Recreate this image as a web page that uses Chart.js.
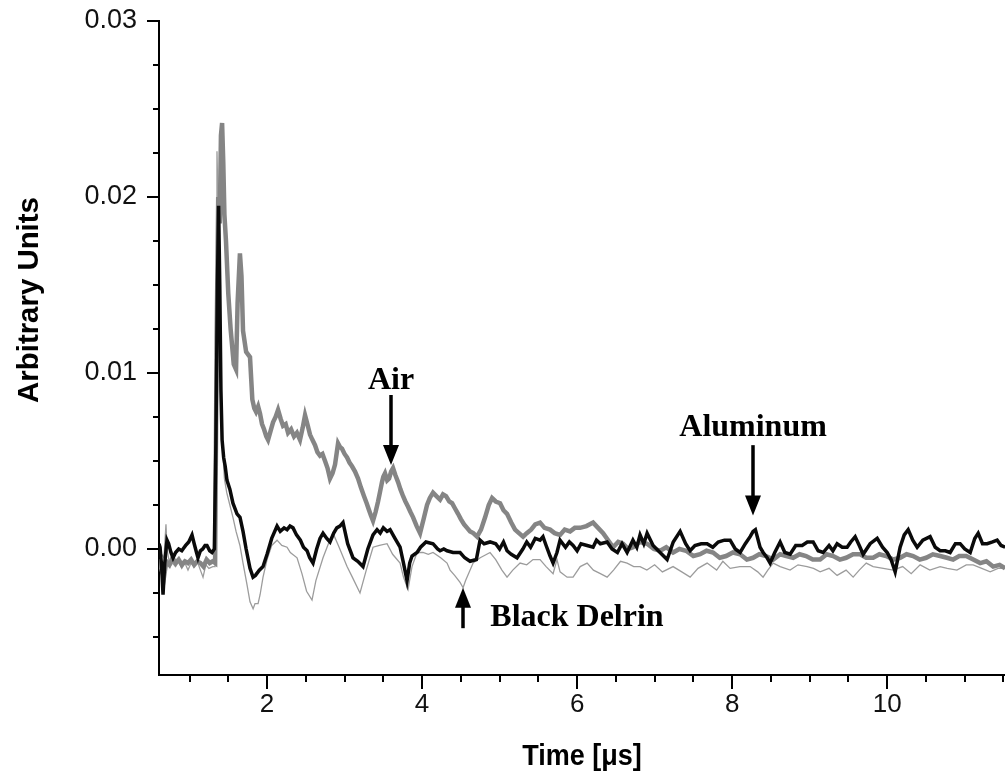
<!DOCTYPE html>
<html>
<head>
<meta charset="utf-8">
<script src="https://cdn.jsdelivr.net/npm/chart.js@4.4.0/dist/chart.umd.min.js"></script>
<style>
  body { margin: 0; background: #fff; }
  #wrap { width: 1005px; height: 780px; }
</style>
</head>
<body>
<div id="wrap"><canvas id="chart"></canvas></div>
<script>
// time axis in microseconds, signal in arbitrary units
const airT = [0.61,0.64,0.67,0.70,0.74,0.78,0.82,0.86,0.90,0.94,0.98,1.02,1.06,1.10,1.14,1.18,1.22,1.26,1.30,1.33,
  1.35,1.37,1.39,1.405,1.42,1.435,1.45,1.47,1.50,1.53,1.57,1.60,1.62,1.65,1.67,1.69,1.73,1.78,1.81,
  1.835,1.858,1.885,1.909,1.935,1.961,1.99,2.013,2.045,2.077,2.11,2.142,2.175,2.206,2.24,2.271,2.31,2.348,2.385,2.425,2.46,
  2.49,2.52,2.554,2.585,2.619,2.65,2.683,2.715,2.748,2.78,2.812,2.845,2.877,2.9,2.916,2.94,2.967,
  3.0,3.032,3.065,3.096,3.135,3.174,3.21,3.251,3.285,3.316,3.34,3.367,3.4,3.432,3.46,3.483,3.5,3.522,3.55,3.574,3.6,3.625,3.655,3.69,3.72,3.755,3.785,3.819,3.85,3.884,3.93,3.974,
  4.02,4.064,4.1,4.141,4.185,4.232,4.27,4.309,4.35,4.387,4.425,4.464,4.5,4.542,4.58,4.619,4.66,4.709,4.76,4.813,4.86,4.903,4.95,
  5.006,5.05,5.096,5.15,5.199,5.25,5.303,5.35,5.406,5.46,5.522,5.58,5.651,5.71,5.78,5.84,5.909,5.97,
  6.038,6.12,6.206,6.27,6.335,6.4,6.464,6.53,6.593,6.66,6.722,6.81,6.903,6.99,
  7.071,7.15,7.238,7.32,7.406,7.5,7.587,7.67,7.754,7.84,7.922,8.01,8.103,8.19,8.27,8.35,8.438,8.53,8.619,8.7,8.787,8.87,8.954,
  9.04,9.135,9.22,9.303,9.39,9.471,9.56,9.651,9.73,9.819,9.9,9.987,10.08,10.167,10.25,10.335,10.42,10.503,10.59,10.683,10.77,10.851,10.93,
  11.019,11.11,11.2,11.28,11.367,11.45,11.522];
const airV = [-0.0006,-0.0012,-0.0016,-0.0007,-0.0009,-0.0005,-0.0008,-0.0006,-0.0009,-0.0007,-0.0008,-0.0006,-0.0009,-0.0007,-0.0008,-0.0010,-0.0006,-0.0008,-0.0007,-0.0008,
  0.012,0.020,0.0185,0.0235,0.0242,0.022,0.019,0.0175,0.0145,0.0125,0.0105,0.0102,0.014,0.0168,0.0155,0.0124,0.0112,0.0109,0.0085,
  0.0080,0.0078,0.0081,0.0077,0.0071,0.0068,0.0064,0.0062,0.0067,0.0072,0.0075,0.0079,0.0074,0.0070,0.0071,0.0066,0.0068,0.0064,0.0066,0.0062,0.0069,
  0.0076,0.0071,0.0065,0.0062,0.0059,0.0055,0.0053,0.0054,0.0050,0.0046,0.0040,0.0043,0.0048,0.0055,0.0060,0.0058,0.0057,
  0.0054,0.0052,0.0049,0.0047,0.0044,0.0040,0.0035,0.0030,0.0026,0.0022,0.0019,0.0016,0.0021,0.0027,0.0033,0.0038,0.0041,0.0043,0.0039,0.0040,0.0044,0.0046,0.0042,0.0038,0.0034,0.0030,0.0027,0.0024,0.0021,0.0018,0.0013,0.0009,
  0.0017,0.0025,0.0029,0.0032,0.0030,0.0028,0.0031,0.0030,0.0027,0.0026,0.0023,0.0020,0.0017,0.0014,0.0012,0.0010,0.0009,0.0007,0.0011,0.0018,0.0025,0.0029,0.0027,
  0.0026,0.0022,0.0020,0.0015,0.0011,0.0009,0.0007,0.0009,0.0011,0.0014,0.0015,0.0012,0.0011,0.0009,0.0008,0.0011,0.0010,0.0012,
  0.0012,0.0013,0.0015,0.0012,0.0009,0.0005,0.0001,0.0004,0.0003,0.0000,0.0001,0.0004,0.0003,0.0000,
  -0.0001,0.0001,-0.0002,0.0000,-0.0001,-0.0004,-0.0003,-0.0001,-0.0002,-0.0005,-0.0004,-0.0002,-0.0003,-0.0006,-0.0005,-0.0003,-0.0004,-0.0006,-0.0003,-0.0004,-0.0005,-0.0003,-0.0004,
  -0.0006,-0.0006,-0.0003,-0.0004,-0.0006,-0.0005,-0.0003,-0.0003,-0.0005,-0.0005,-0.0003,-0.0004,-0.0006,-0.0005,-0.0003,-0.0004,-0.0006,-0.0005,-0.0003,-0.0004,-0.0005,-0.0006,-0.0004,
  -0.0004,-0.0006,-0.0008,-0.0007,-0.0010,-0.0009,-0.0011];

const aluT = [0.606,0.62,0.64,0.658,0.68,0.709,0.73,0.76,0.787,0.82,0.86,0.90,0.916,0.95,0.99,1.032,1.06,1.09,1.109,1.14,1.17,1.20,1.225,1.26,1.29,1.32,
  1.34,1.36,1.375,1.39,1.405,1.42,1.44,1.46,1.483,1.52,1.56,1.612,1.651,1.69,1.73,1.78,1.819,1.85,1.90,1.948,
  2.00,2.06,2.129,2.17,2.22,2.258,2.296,2.335,2.38,2.43,2.47,2.516,2.55,2.593,2.64,2.683,2.722,2.77,2.812,2.86,2.90,2.94,2.98,
  3.00,3.04,3.109,3.17,3.238,3.30,3.367,3.419,3.46,3.50,3.548,3.587,3.65,3.716,3.76,3.806,3.84,3.87,3.935,3.98,
  4.05,4.141,4.20,4.232,4.28,4.322,4.40,4.49,4.55,4.619,4.70,4.748,4.80,4.877,4.95,
  5.00,5.05,5.096,5.15,5.225,5.30,5.35,5.40,5.46,5.522,5.56,5.60,5.651,5.69,5.74,5.78,5.85,5.90,5.948,
  6.00,6.05,6.129,6.206,6.25,6.30,6.387,6.45,6.52,6.58,6.645,6.72,6.77,6.812,6.86,6.903,6.98,
  7.07,7.161,7.24,7.329,7.40,7.458,7.52,7.60,7.677,7.75,7.82,7.90,7.974,
  8.04,8.103,8.17,8.232,8.27,8.30,8.36,8.40,8.451,8.49,8.55,8.619,8.68,8.748,8.82,8.903,8.97,
  9.045,9.11,9.174,9.25,9.30,9.354,9.42,9.483,9.53,9.587,9.64,9.69,9.78,9.871,9.94,
  10.0,10.05,10.103,10.167,10.22,10.271,10.33,10.387,10.46,10.554,10.62,10.683,10.75,10.812,10.88,10.941,
  11.0,11.071,11.13,11.174,11.23,11.29,11.36,11.419,11.47,11.522];
const aluV = [0.0003,0.0001,-0.0010,-0.0026,-0.0008,0.0005,0.0003,-0.0002,-0.0005,-0.0002,0.0000,-0.0001,0.0000,0.0002,0.0004,0.0008,0.0003,-0.0002,-0.0005,-0.0001,0.0000,0.0002,0.0002,-0.0001,-0.0002,0.0000,
  0.0060,0.0150,0.0195,0.0150,0.0090,0.0062,0.0052,0.0047,0.0039,0.0034,0.0026,0.0020,0.0018,0.0010,0.0000,-0.0011,-0.0016,-0.0015,-0.0012,-0.0010,
  -0.0003,0.0006,0.0013,0.0010,0.0012,0.0011,0.0013,0.0012,0.0008,0.0005,0.0001,-0.0001,-0.0005,-0.0008,0.0000,0.0006,0.0009,0.0006,0.0004,0.0009,0.0012,0.0013,0.0015,
  0.0011,0.0003,-0.0005,-0.0007,-0.0010,0.0000,0.0008,0.0011,0.0009,0.0012,0.0010,0.0011,0.0006,0.0001,-0.0008,-0.0018,-0.0008,-0.0004,-0.0002,0.0001,
  0.0004,0.0003,0.0000,-0.0001,0.0000,-0.0001,-0.0002,-0.0002,-0.0005,-0.0007,-0.0006,0.0005,0.0003,0.0004,0.0003,
  0.0000,0.0004,-0.0001,-0.0003,-0.0005,0.0000,0.0004,0.0001,0.0006,0.0005,0.0007,0.0002,-0.0004,-0.0008,-0.0002,0.0005,0.0001,0.0004,0.0002,
  -0.0001,0.0003,0.0002,0.0001,0.0005,0.0003,0.0004,0.0000,-0.0002,0.0003,-0.0002,0.0005,0.0001,0.0008,0.0003,0.0009,0.0002,
  -0.0002,-0.0006,0.0004,0.0010,0.0003,-0.0001,0.0002,0.0003,0.0003,0.0001,0.0004,0.0005,0.0005,
  0.0000,-0.0002,0.0003,0.0007,0.0010,0.0011,0.0001,-0.0002,-0.0005,-0.0008,-0.0002,0.0004,-0.0002,-0.0003,0.0002,0.0002,0.0004,
  0.0004,-0.0001,-0.0002,0.0002,-0.0001,0.0003,0.0001,0.0001,0.0004,0.0007,0.0002,-0.0003,0.0003,0.0006,0.0001,
  -0.0002,-0.0006,-0.0013,0.0001,0.0008,0.0011,0.0005,0.0001,0.0005,0.0007,0.0001,-0.0001,-0.0001,-0.0002,0.0003,0.0003,
  0.0000,-0.0002,0.0006,0.0009,0.0003,0.0003,0.0004,0.0005,0.0002,0.0001];

const delT = [0.606,0.62,0.64,0.67,0.696,0.71,0.748,0.78,0.82,0.86,0.90,0.94,0.98,1.02,1.06,1.10,1.14,1.174,1.21,1.25,1.30,1.329,
  1.345,1.354,1.37,1.39,1.41,1.43,1.45,1.48,1.52,1.56,1.60,1.65,1.69,1.74,1.78,1.82,1.845,1.884,1.91,1.948,
  2.00,2.06,2.129,2.19,2.258,2.30,2.387,2.45,2.51,2.58,2.63,2.722,2.80,2.851,2.92,
  3.032,3.10,3.199,3.28,3.367,3.45,3.548,3.62,3.716,3.76,3.819,3.87,3.935,
  4.012,4.08,4.141,4.24,4.322,4.361,4.42,4.49,4.529,4.56,4.658,4.75,4.877,4.95,
  5.03,5.096,5.17,5.264,5.35,5.431,5.522,5.60,5.69,5.74,5.78,5.871,5.948,
  6.04,6.129,6.21,6.30,6.387,6.47,6.56,6.645,6.73,6.812,6.90,
  7.00,7.10,7.238,7.35,7.458,7.56,7.677,7.80,7.88,7.974,
  8.10,8.232,8.33,8.399,8.46,8.529,8.62,8.748,8.85,8.967,
  9.05,9.135,9.25,9.354,9.47,9.561,9.64,9.73,9.819,9.95,
  10.077,10.20,10.31,10.425,10.55,10.683,10.774,10.90,
  11.02,11.109,11.22,11.329,11.43,11.522];
const delV = [-0.0006,-0.0008,-0.0003,-0.0005,0.0014,0.0000,-0.0010,-0.0008,-0.0010,-0.0007,-0.0011,-0.0008,-0.0012,-0.0008,-0.0010,-0.0007,-0.0012,-0.0016,-0.0009,-0.0011,-0.0010,-0.0010,
  0.0100,0.0226,0.0190,0.0120,0.0070,0.0055,0.0040,0.0032,0.0025,0.0018,0.0010,0.0002,-0.0008,-0.0020,-0.0030,-0.0034,-0.0031,-0.0031,-0.0026,-0.0016,
  -0.0006,0.0002,0.0005,0.0002,0.0001,-0.0002,-0.0005,-0.0014,-0.0024,-0.0029,-0.0018,-0.0005,0.0004,0.0009,0.0002,
  -0.0010,-0.0016,-0.0025,-0.0012,0.0001,0.0002,0.0003,-0.0003,-0.0008,-0.0016,-0.0023,-0.0010,-0.0002,
  -0.0002,-0.0003,-0.0002,-0.0005,-0.0008,-0.0012,-0.0015,-0.0019,-0.0022,-0.0018,-0.0008,-0.0005,-0.0002,-0.0006,
  -0.0012,-0.0016,-0.0012,-0.0008,-0.0009,-0.0006,-0.0006,-0.0010,-0.0014,-0.0006,-0.0013,-0.0016,-0.0016,
  -0.0010,-0.0008,-0.0012,-0.0014,-0.0016,-0.0012,-0.0007,-0.0008,-0.0010,-0.0010,-0.0012,
  -0.0009,-0.0013,-0.0010,-0.0013,-0.0016,-0.0011,-0.0008,-0.0012,-0.0007,-0.0011,
  -0.0010,-0.0010,-0.0013,-0.0016,-0.0012,-0.0008,-0.0010,-0.0012,-0.0009,-0.0010,
  -0.0011,-0.0013,-0.0011,-0.0015,-0.0012,-0.0016,-0.0012,-0.0008,-0.0010,-0.0011,
  -0.0012,-0.0010,-0.0014,-0.0009,-0.0012,-0.0010,-0.0011,-0.0012,
  -0.0009,-0.0009,-0.0011,-0.0013,-0.0011,-0.0011];

const xLabels = [2, 4, 6, 8, 10];
const yLabels = [0, 0.01, 0.02, 0.03];

const toPoints = (t, v) => t.map((x, i) => ({ x, y: v[i] }));

// arrows and their captions, placed in data units
const notes = [
  { text: "Air", x: 3.6, y: 0.0091, align: "center", from: 0.00875, to: 0.00477 },
  { text: "Aluminum", x: 8.27, y: 0.0064, align: "center", from: 0.0059, to: 0.0019 },
  { text: "Black Delrin", x: 4.88, y: -0.0044, align: "left", ax: 4.53, from: -0.0045, to: -0.0022 },
];

const decor = {
  id: "decor",
  afterDraw(chart) {
    const { ctx, chartArea } = chart;
    const xs = chart.scales.x;
    const ys = chart.scales.y;
    ctx.save();
    ctx.strokeStyle = "#000";
    ctx.lineWidth = 2;

    // y tick marks, majors every 0.01, minors every 0.0025
    for (let k = -2; k <= 12; k++) {
      const py = Math.round(ys.getPixelForValue(k * 0.0025));
      const len = k % 4 === 0 ? 12 : 6;
      ctx.beginPath();
      ctx.moveTo(chartArea.left, py);
      ctx.lineTo(chartArea.left - len, py);
      ctx.stroke();
    }
    // x tick marks, majors every 2, minors every 0.5
    for (let k = 2; k <= 23; k++) {
      const v = k * 0.5;
      const px = Math.round(xs.getPixelForValue(v));
      const len = v % 2 === 0 ? 14 : 7;
      ctx.beginPath();
      ctx.moveTo(px, chartArea.bottom);
      ctx.lineTo(px, chartArea.bottom + len);
      ctx.stroke();
    }

    // axis titles, squeezed a little to look like a narrow face
    ctx.fillStyle = "#000";
    ctx.font = "bold 30px 'Liberation Sans', sans-serif";
    ctx.textAlign = "center";
    ctx.textBaseline = "middle";
    ctx.save();
    ctx.translate((chartArea.left + chartArea.right) / 2, 757);
    ctx.scale(0.9, 1.0);
    ctx.fillText("Time [\u03bcs]", 0, 0);
    ctx.restore();
    ctx.save();
    ctx.translate(30, 300);
    ctx.rotate(-Math.PI / 2);
    ctx.scale(0.98, 1.0);
    ctx.fillText("Arbitrary Units", 0, 0);
    ctx.restore();

    // annotations
    ctx.font = "bold 32px 'Liberation Serif', serif";
    ctx.textBaseline = "alphabetic";
    notes.forEach(n => {
      ctx.textAlign = n.align;
      ctx.fillText(n.text, xs.getPixelForValue(n.x), ys.getPixelForValue(n.y));
      const ax = Math.round(xs.getPixelForValue(n.ax !== undefined ? n.ax : n.x));
      const y0 = ys.getPixelForValue(n.from);
      const y1 = ys.getPixelForValue(n.to);
      const dir = y1 > y0 ? 1 : -1;
      ctx.lineWidth = 3.5;
      ctx.beginPath();
      ctx.moveTo(ax, y0);
      ctx.lineTo(ax, y1 - dir * 14);
      ctx.stroke();
      ctx.beginPath();
      ctx.moveTo(ax, y1);
      ctx.lineTo(ax - 8, y1 - dir * 20);
      ctx.lineTo(ax + 8, y1 - dir * 20);
      ctx.closePath();
      ctx.fill();
    });
    ctx.restore();
  }
};

new Chart(document.getElementById("chart"), {
  type: "line",
  data: {
    datasets: [
      { label: "Aluminum", data: toPoints(aluT, aluV), borderColor: "#0a0a0a", borderWidth: 3.5, order: 0 },
      { label: "Air", data: toPoints(airT, airV), borderColor: "#858585", borderWidth: 4.5, order: 1 },
      { label: "Black Delrin", data: toPoints(delT, delV), borderColor: "#9c9c9c", borderWidth: 1.3, order: 2 },
    ],
  },
  options: {
    responsive: true,
    maintainAspectRatio: false,
    animation: false,
    elements: { point: { radius: 0 }, line: { tension: 0 } },
    layout: { padding: { top: 21, right: 0, bottom: 0, left: 0 } },
    plugins: { legend: { display: false }, tooltip: { enabled: false } },
    scales: {
      x: {
        type: "linear",
        min: 0.606,
        max: 11.52,
        grid: { display: false, drawTicks: false },
        border: { display: true, color: "#000", width: 2 },
        afterBuildTicks: s => { s.ticks = xLabels.map(v => ({ value: v })); },
        afterFit: s => { s.height = 105; s.paddingLeft = 0; s.paddingRight = 0; },
        ticks: {
          padding: 14,
          color: "#111",
          maxRotation: 0,
          font: { family: "'Liberation Sans', sans-serif", size: 26 },
          callback: v => String(v),
        },
      },
      y: {
        min: -0.00716,
        max: 0.03,
        grid: { display: false, drawTicks: false },
        border: { display: true, color: "#000", width: 2 },
        afterBuildTicks: s => { s.ticks = yLabels.map(v => ({ value: v })); },
        afterFit: s => { s.width = 159; s.paddingTop = 0; s.paddingBottom = 0; },
        ticks: {
          padding: 22,
          color: "#111",
          font: { family: "'Liberation Sans', Arial, sans-serif", size: 27 },
          callback: v => v.toFixed(2),
        },
      },
    },
  },
  plugins: [decor],
});
</script>
</body>
</html>
